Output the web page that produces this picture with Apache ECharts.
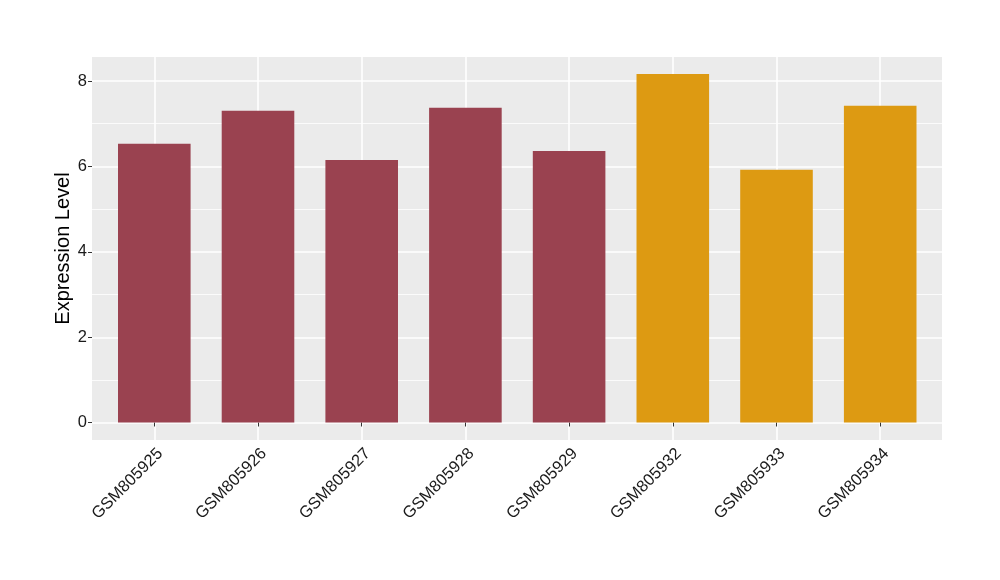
<!DOCTYPE html>
<html>
<head>
<meta charset="utf-8">
<script src="https://cdn.jsdelivr.net/npm/echarts@6/dist/echarts.min.js"></script>
<style>html,body{margin:0;padding:0;background:#fff}#c{width:1000px;height:580px}</style>
</head>
<body>
<div id="c"></div>
<script>
const categories = ['GSM805925','GSM805926','GSM805927','GSM805928','GSM805929','GSM805932','GSM805933','GSM805934'];
const values = [6.53, 7.30, 6.15, 7.37, 6.36, 8.16, 5.92, 7.42];
const groups = ['A','A','A','A','A','B','B','B'];
const groupColors = { A: '#9A4250', B: '#DD9A12' };
const yTicks = [0, 2, 4, 6, 8];
const yTitle = 'Expression Level';

const chart = echarts.init(document.getElementById('c'), null, { renderer: 'canvas' });
const font = 'Liberation Sans';
const yMin = -0.41, yMax = 8.56;

chart.setOption({
  backgroundColor: '#ffffff',
  animation: false,
  grid: [
    { left: 92, right: 58, top: 57, bottom: 140, show: true, backgroundColor: '#EBEBEB', borderWidth: 0, z: -1 },
    { left: 154.3, right: 119.8, top: 57, bottom: 140 },
    { left: 92, right: 58, top: 81, bottom: 157.3 }
  ],
  xAxis: [
    { gridIndex: 0, type: 'value', show: false, min: 0, max: 1 },
    { gridIndex: 1, type: 'category', data: categories, boundaryGap: false,
      axisLine: { show: false },
      axisTick: { show: true, length: 4, lineStyle: { color: '#333333', width: 1 } },
      axisLabel: { rotate: 45, fontSize: 16.5, color: '#1a1a1a', fontFamily: font, margin: 5, interval: 0,
                   align: 'right', verticalAlign: 'top' },
      splitLine: { show: true, lineStyle: { color: '#ffffff', width: 1.6 } }
    },
    { gridIndex: 2, type: 'value', show: false, min: 0, max: 1 }
  ],
  yAxis: [
    { gridIndex: 0, type: 'value', min: yMin, max: yMax, show: true,
      name: yTitle, nameLocation: 'middle', nameGap: 19,
      nameTextStyle: { fontSize: 20, color: '#000', fontFamily: font },
      axisLine: { show: false }, axisTick: { show: false }, axisLabel: { show: false }, splitLine: { show: false }
    },
    { gridIndex: 1, type: 'value', min: yMin, max: yMax, show: false, splitLine: { show: false } },
    { gridIndex: 2, type: 'value', min: yTicks[0], max: yTicks[yTicks.length - 1], interval: 2,
      axisLine: { show: false },
      axisTick: { show: true, length: 4, lineStyle: { color: '#333333', width: 1 } },
      axisLabel: { fontSize: 16.5, color: '#1a1a1a', fontFamily: font, margin: 5 },
      splitLine: { show: true, lineStyle: { color: '#ffffff', width: 1.6 } },
      minorTick: { show: false, splitNumber: 2 },
      minorSplitLine: { show: true, lineStyle: { color: '#ffffff', width: 0.8 } }
    }
  ],
  series: [{
    type: 'bar',
    xAxisIndex: 1, yAxisIndex: 1,
    barWidth: '70%',
    data: values.map((v, i) => ({ value: v, itemStyle: { color: groupColors[groups[i]] } })),
    z: 5
  }]
});
</script>
</body>
</html>
